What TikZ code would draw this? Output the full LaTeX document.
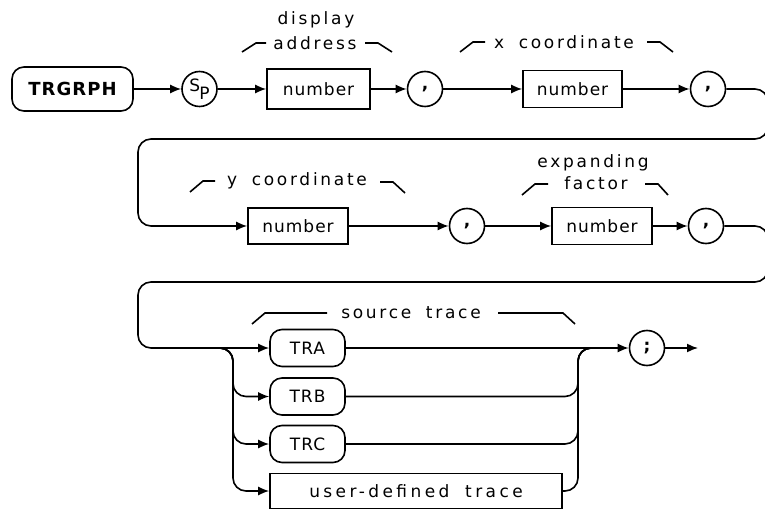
\documentclass[tikz,border=0pt]{standalone}
\usepackage{fontspec}
\newfontfamily\hpfont[LetterSpace=16,WordSpace=1.8]{DejaVu Sans}
\newfontfamily\hpbox[LetterSpace=6]{DejaVu Sans}
\newfontfamily\hpwide[LetterSpace=20,WordSpace=1.8]{DejaVu Sans}
\usetikzlibrary{arrows.meta,positioning,calc}
\tikzset{
  lab/.style  = {font=\hpfont\fontsize{17}{19}\selectfont, inner sep=0pt},
  term/.style = {rectangle, rounded corners=12pt, draw, line width=1.6pt,
                 minimum width=75pt, minimum height=37pt, inner sep=0pt,
                 font=\hpbox\fontsize{17}{19}\selectfont},
  nbox/.style = {rectangle, draw, line width=1.6pt, minimum height=37pt,
                 inner sep=0pt, font=\hpbox\fontsize{17}{19}\selectfont},
  punc/.style = {circle, draw, line width=1.6pt, minimum size=35pt, inner sep=0pt,
                 font=\hpbox\bfseries\fontsize{17}{19}\selectfont},
  flow/.style = {-{Latex[length=11pt,width=9pt]}, line width=1.6pt, rounded corners=13pt},
  wire/.style = {line width=1.6pt, rounded corners=13pt},
  brk/.style  = {line width=1.6pt},
}

\begin{document}
\begin{tikzpicture}[x=1pt, y=-1pt]
  \useasboundingbox (0,0) rectangle (765,510);
  \clip (0,0) rectangle (765,510);

  % first row
  \node[term, minimum width=121pt, minimum height=44pt,
        font=\hpbox\bfseries\fontsize{18}{20}\selectfont] (cmd) at (72.5,89) {TRGRPH};
  \node[punc, font=\hpbox\fontsize{17}{19}\selectfont] (sp) at (199.5,89)
        {\raisebox{3pt}{S}\kern-1pt\raisebox{-5pt}{P}};
  \node[nbox, minimum width=103pt, minimum height=40pt] (num1) at (318.5,89) {number};
  \node[punc] (c1) at (425,89) {,};
  \node[nbox, minimum width=99pt] (num2) at (572.5,89) {number};
  \node[punc] (c2) at (708,89) {,};

  \node[lab] (dsp) at (316,20) {display};
  \node[lab] (adr) at (315,43) {address};
  \node[lab] (xco) at (564,42) {x coordinate};

  % second row
  \node[nbox, minimum width=100pt, minimum height=36pt] (num3) at (298,226) {number};
  \node[punc] (c3) at (467,226) {,};
  \node[nbox, minimum width=100pt] (num4) at (602,226) {number};
  \node[punc] (c4) at (706,226) {,};

  \node[lab] (yco) at (297,181) {y coordinate};
  \node[lab] (exp) at (593,163) {expanding};
  \node[lab] (fac) at (596,183) {factor};

  % third row
  \node[term] (tra) at (307.5,348) {TRA};
  \node[term] (trb) at (307.5,396.5) {TRB};
  \node[term] (trc) at (307.5,444) {TRC};
  \node[nbox, minimum width=292pt, minimum height=35pt,
        font=\hpwide\fontsize{17}{19}\selectfont] (usr) at (416,491) {user-defined trace};
  \node[punc] (semi) at (647,348) {;};
  \node[lab] (src) at (411,313) {source trace};

  % turn points
  \coordinate (r1) at (768,139);
  \coordinate (l1) at (138,139);
  \coordinate (r2) at (768,282);
  \coordinate (l2) at (138,282);
  \coordinate (br) at (218,348);
  \coordinate (bv) at (233,348);
  \coordinate (mv) at (578,348);
  \coordinate (mj) at (595,348);
  \coordinate (fin) at (698,348);

  \draw[flow] (cmd) -- (sp);
  \draw[flow] (sp) -- (num1);
  \draw[flow] (num1) -- (c1);
  \draw[flow] (c1) -- (num2);
  \draw[flow] (num2) -- (c2);
  \draw[flow] (c2.east) -| (r1) -- (l1) |- (num3.west);

  \draw[flow] (num3) -- (c3);
  \draw[flow] (c3) -- (num4);
  \draw[flow] (num4) -- (c4);
  \draw[flow] (c4.east) -| (r2) -- (l2) |- (tra.west);

  \draw[flow] (tra) -- (semi);
  \foreach \t in {trb,trc,usr}{
    \draw[flow] (br) -| (bv |- \t.west) -- (\t.west);
    \draw[wire] (\t.east) -| (mv) -- (mj);
  }
  \draw[flow] (semi) -- (fin);

  % brackets over the parameters
  \draw[brk] (242,52) -- (256,43) -- (266,43);
  \draw[brk] (365,43) -- (378,43) -- (392,52);
  \draw[brk] (460,52) -- (473,42) -- (485,42);
  \draw[brk] (647,42) -- (660,42) -- (673,52);
  \draw[brk] (190,192) -- (203,181) -- (215,181);
  \draw[brk] (380,182) -- (393,182) -- (405,193);
  \draw[brk] (522,195) -- (535,184) -- (548,184);
  \draw[brk] (645,184) -- (658,184) -- (668,195);
  \draw[brk] (252,324) -- (265,313) -- (327,313);
  \draw[brk] (498,313) -- (563,313) -- (575,324);
\end{tikzpicture}
\end{document}
